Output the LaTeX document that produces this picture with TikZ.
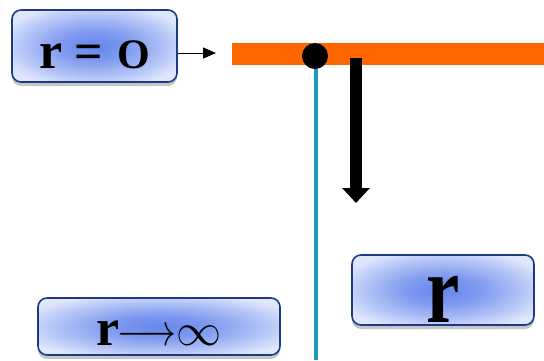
\RequirePackage{fix-cm}
\documentclass[tikz,border=0pt]{standalone}
\usepackage{fontspec}
\setmainfont{Liberation Serif}
\usetikzlibrary{arrows.meta,shadows}
\definecolor{boxedge}{HTML}{1D3A86}
\definecolor{boxmid}{HTML}{6586EC}
\definecolor{boxrim}{HTML}{E0E7FC}
\definecolor{barorange}{HTML}{FF6600}
\definecolor{poleblue}{HTML}{1A98C2}
% soft blue glow, strongest in the middle of each label box
\pgfdeclareradialshading{boxglow}{\pgfpoint{0bp}{0bp}}{%
  color(0bp)=(boxmid); color(10bp)=(boxmid!80!boxrim);
  color(22bp)=(boxmid!35!boxrim); color(30bp)=(boxrim); color(50bp)=(boxrim)}
\tikzset{
  labelbox/.style={rounded corners=9pt, draw=boxedge, line width=1.6pt,
    shade, shading=boxglow,
    drop shadow={shadow xshift=0pt, shadow yshift=-4pt, opacity=0.45},
    inner sep=0pt},
  glyph/.style={inner sep=0pt, anchor=base west, font=\bfseries},
}
\newcommand{\sz}[1]{\fontsize{#1}{#1}\selectfont}
\begin{document}
\begin{tikzpicture}[x=1pt,y=-1pt]
  \useasboundingbox (0,0) rectangle (544,360);

  % horizontal orange bar and the vertical pole hanging from it
  \fill[barorange] (232,43) rectangle (544,65);
  \coordinate (poletop) at (316,62);
  \coordinate (polefoot) at (316,360);
  \draw[poleblue, line width=4pt] (poletop) -- (polefoot);
  \node[circle, fill=black, minimum size=26pt, inner sep=0pt] (pivot) at (315,56) {};

  % downward direction arrow
  \coordinate (dirtop) at (356,58);
  \coordinate (dirtip) at (356,203);
  \draw[line width=12pt, -{Triangle[length=15pt,width=27pt]}] (dirtop) -- (dirtip);

  % label boxes
  \node[labelbox, minimum width=165pt, minimum height=72pt] (origin) at (94.5,46) {};
  \node[labelbox, minimum width=182pt, minimum height=70pt] (radius) at (443,290) {};
  \node[labelbox, minimum width=242pt, minimum height=57pt] (infinity) at (159,326.5) {};

  % label texts
  \node[glyph] (o-r)  at (39,68)  {\sz{52}r};
  \node[glyph] (o-eq) at (74,68)  {\sz{50}=};
  \node[glyph] (o-O)  at (117,68) {\sz{42}O};
  \node[glyph] (r-r)  at (426,322) {\scalebox{1}[1.3]{\sz{75}r}};
  \node[glyph] (i-r)  at (96,345) {\sz{52}r};
  \node[glyph] (i-to) at (117,345)
    {\sz{45}\scalebox{0.82}[1]{$\longrightarrow$}$\infty$};

  % pointer from the origin label to the bar
  \coordinate (bartip) at (216,53);
  \draw[line width=1pt, -{Triangle[length=13pt,width=11pt]}] (origin.east |- bartip) -- (bartip);
\end{tikzpicture}
\end{document}
